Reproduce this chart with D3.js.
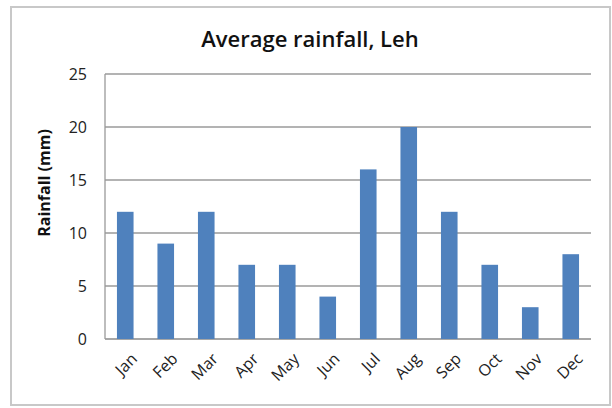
<!DOCTYPE html>
<html><head><meta charset="utf-8">
<script src="https://cdn.jsdelivr.net/npm/d3@7"></script>
<style>body{margin:0;background:#fff}svg{display:block}</style>
</head><body>
<script>
const months = ["Jan","Feb","Mar","Apr","May","Jun","Jul","Aug","Sep","Oct","Nov","Dec"];
const rainfall = [12,9,12,7,7,4,16,20,12,7,3,8];
const yTicks = [0,5,10,15,20,25];
const title = "Average rainfall, Leh";
const yTitle = "Rainfall (mm)";

const W=612,H=408;
const svg=d3.select("body").append("svg").attr("width",W).attr("height",H);
const font="'Open Sans', 'DejaVu Sans', sans-serif";
svg.append("rect").attr("x",11).attr("y",7).attr("width",599).attr("height",398)
  .attr("fill","#fff").attr("stroke","#c8c8c8").attr("stroke-width",2);

const m={l:105,r:591,t:74,b:339};
const x=d3.scaleBand().domain(months).range([m.l,m.r]).paddingInner(0.59).paddingOuter(0.295);
const y=d3.scaleLinear().domain([0,25]).range([m.b,m.t]);

const g=svg.append("g");
g.selectAll("line.grid").data(yTicks).join("line").attr("class","grid")
  .attr("x1",m.l).attr("x2",m.r).attr("y1",d=>y(d)).attr("y2",d=>y(d))
  .attr("stroke",d=>d===0?"#8a8a8a":"#9a9a9a").attr("stroke-width",1.3);
g.append("line").attr("x1",m.l).attr("x2",m.l).attr("y1",m.t).attr("y2",m.b).attr("stroke","#9a9a9a").attr("stroke-width",1.3);

g.selectAll("rect.bar").data(rainfall).join("rect").attr("class","bar")
  .attr("x",(d,i)=>x(months[i])).attr("width",x.bandwidth())
  .attr("y",d=>y(d)).attr("height",d=>y(0)-y(d)).attr("fill","#4f81bd");

g.selectAll("text.yt").data(yTicks).join("text").attr("class","yt")
  .attr("x",87).attr("y",d=>y(d)).attr("dy","0.35em").attr("text-anchor","end")
  .attr("font-family",font).attr("font-size",16).attr("fill","#222").text(d=>d);

g.selectAll("text.xt").data(months).join("text").attr("class","xt")
  .attr("transform",d=>`translate(${x(d)+x.bandwidth()/2+5},${m.b+13}) rotate(-45)`)
  .attr("text-anchor","end").attr("dy","0.7em")
  .attr("font-family",font).attr("font-size",16).attr("fill","#222").text(d=>d);

svg.append("text").attr("x",310).attr("y",47).attr("text-anchor","middle")
  .attr("font-family",font).attr("font-size",22).attr("font-weight",600).attr("fill","#111").text(title);
svg.append("text").attr("transform",`translate(50,183) rotate(-90)`)
  .attr("text-anchor","middle").attr("font-family",font).attr("font-size",16)
  .attr("font-weight",700).attr("fill","#111").text(yTitle);
</script>
</body></html>
